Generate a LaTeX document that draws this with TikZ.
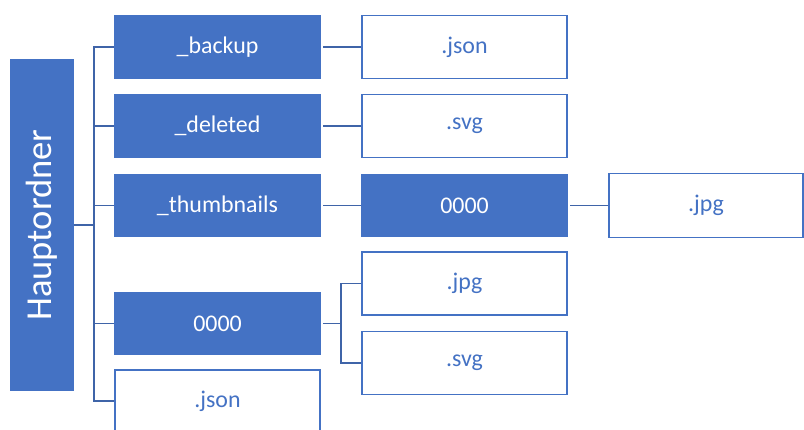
\documentclass[tikz,border=0pt]{standalone}
\usepackage{fontspec}
\setmainfont{Carlito}
\usepackage{xcolor}
\definecolor{officeblue}{HTML}{4472C4}
\definecolor{linkblue}{HTML}{3F64A8}
\usetikzlibrary{positioning}

\tikzset{
    folder/.style={draw=officeblue, fill=officeblue, text=white, line width=0.8pt, inner sep=0pt,
        minimum width=5.125cm, minimum height=1.55cm, font=\fontsize{17}{20}\selectfont},
    file/.style={draw=officeblue, fill=white, text=officeblue, line width=0.9pt, inner sep=0pt,
        minimum width=5.125cm, minimum height=1.58cm, font=\fontsize{17}{20}\selectfont},
    link/.style={draw=linkblue, line width=0.9pt}
}

\begin{document}
\begin{tikzpicture}[x=0.025cm, y=-0.025cm]
    \useasboundingbox (0,0) rectangle (804,429);

    % Root
    \node[folder, minimum width=1.55cm, minimum height=8.25cm] (haupt) at (42,225)
        {\rotatebox{90}{\fontsize{26}{30}\selectfont Hauptordner}};

    % First level
    \node[folder] (backup) at (217.5,47) {\_backup};
    \node[folder] (deleted) at (217.5,126) {\_deleted};
    \node[folder] (thumbs) at (217.5,205.5) {\_thumbnails};
    \node[folder] (dir) at (217.5,323.5) {0000};
    \node[file, minimum height=1.55cm] (json) at (217.5,401) {.json};

    % Second level
    \node[file] (backupjson) at (464.5,47) {.json};
    \node[file] (deletedsvg) at (464.5,126) {.svg};
    \node[folder] (thumbsdir) at (464.5,205.5) {0000};
    \node[file] (dirjpg) at (464.5,283.5) {.jpg};
    \node[file] (dirsvg) at (464.5,363) {.svg};

    % Third level
    \node[file, minimum width=4.85cm, minimum height=1.6cm] (thumbsjpg) at (706,205.5) {.jpg};

    % Tree lines
    \coordinate (trunk) at (94,225);
    \draw[link] (haupt.east) -- (trunk);
    \draw[link] (trunk) |- (backup.west);
    \draw[link] (trunk) |- (deleted.west);
    \draw[link] (trunk) |- (thumbs.west);
    \draw[link] (trunk) |- (dir.west);
    \draw[link] (trunk) |- (json.west);

    \draw[link] ([xshift=2pt]backup.east) -- (backupjson.west);
    \draw[link] ([xshift=2pt]deleted.east) -- (deletedsvg.west);
    \draw[link] ([xshift=2pt]thumbs.east) -- (thumbsdir.west);
    \draw[link] ([xshift=2pt]thumbsdir.east) -- (thumbsjpg.west);

    \coordinate (fork) at (341,323.5);
    \draw[link] ([xshift=2pt]dir.east) -- (fork);
    \draw[link] (fork) |- (dirjpg.west);
    \draw[link] (fork) |- (dirsvg.west);
\end{tikzpicture}
\end{document}
